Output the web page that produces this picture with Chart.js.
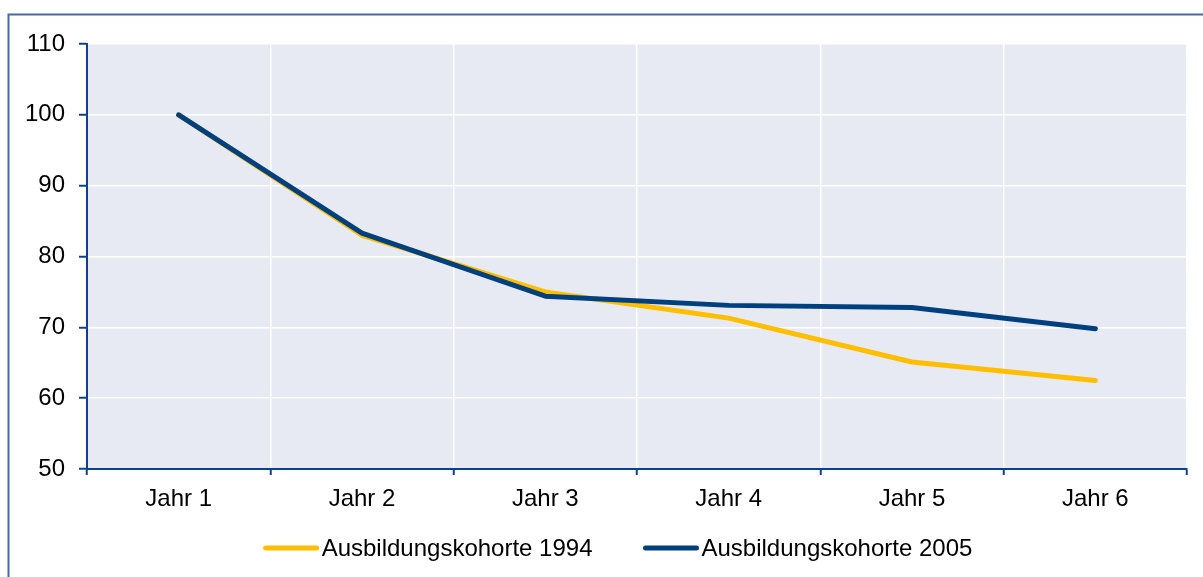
<!DOCTYPE html>
<html>
<head>
<meta charset="utf-8">
<script src="https://cdn.jsdelivr.net/npm/chart.js@4/dist/chart.umd.min.js"></script>
<style>
  html, body { margin: 0; padding: 0; background: #fff; }
  #wrap { width: 1203px; height: 577px; position: relative; }
</style>
</head>
<body>
<div id="wrap"><canvas id="chart" width="1203" height="577"></canvas></div>
<script>
// Ausbildungskohorten 1994 vs 2005, index (Jahr 1 = 100)

const YEARS = ["Jahr 1", "Jahr 2", "Jahr 3", "Jahr 4", "Jahr 5", "Jahr 6"];
const KOHORTE_1994 = [100, 83.0, 75.0, 71.3, 65.1, 62.5];
const KOHORTE_2005 = [100, 83.3, 74.4, 73.1, 72.8, 69.8];
const SERIES_LABELS = ["Ausbildungskohorte 1994", "Ausbildungskohorte 2005"];
const Y_MIN = 50, Y_MAX = 110, Y_STEP = 10;

const YELLOW = "#ffbe00";
const NAVY = "#00407f";
const AXIS = "#0c418f";
const FONT = "'Liberation Sans', Arial, sans-serif";

const plotBg = {
  id: "plotBg",
  beforeDraw(chart) {
    const { ctx, chartArea: a } = chart;
    ctx.save();
    ctx.fillStyle = "#e7eaf2";
    ctx.fillRect(a.left, a.top, a.right - a.left, a.bottom - a.top);
    ctx.restore();
  },
  afterDraw(chart) {
    // outer frame
    const ctx = chart.ctx;
    ctx.save();
    ctx.strokeStyle = "#4a69a8";
    ctx.lineWidth = 2;
    ctx.strokeRect(8.5, 14.5, 1240, 600);
    ctx.restore();
  }
};

const lineLegend = {
  id: "lineLegend",
  afterDraw(chart) {
    const ctx = chart.ctx;
    const lineLen = 55, gap = 3, itemGap = 51, y = 548, centerX = 618;
    ctx.save();
    ctx.font = "24px " + FONT;
    const items = chart.data.datasets.map(ds => ({
      label: ds.label, color: ds.borderColor, w: ctx.measureText(ds.label).width
    }));
    const total = items.reduce((s, it) => s + lineLen + gap + it.w, 0) + itemGap * (items.length - 1);
    let x = centerX - total / 2;
    items.forEach(it => {
      ctx.strokeStyle = it.color;
      ctx.lineWidth = 5;
      ctx.lineCap = "round";
      ctx.beginPath();
      ctx.moveTo(x + 2, y);
      ctx.lineTo(x + lineLen - 2, y);
      ctx.stroke();
      ctx.fillStyle = "#000";
      ctx.textBaseline = "middle";
      ctx.fillText(it.label, x + lineLen + gap, y + 1);
      x += lineLen + gap + it.w + itemGap;
    });
    ctx.restore();
  }
};

new Chart(document.getElementById("chart"), {
  type: "line",
  data: {
    labels: YEARS,
    datasets: [
      // order: navy line is drawn over the yellow one
      { label: SERIES_LABELS[0], data: KOHORTE_1994, borderColor: YELLOW, backgroundColor: YELLOW, order: 2 },
      { label: SERIES_LABELS[1], data: KOHORTE_2005, borderColor: NAVY, backgroundColor: NAVY, order: 1 },
    ],
  },
  options: {
    responsive: false,
    animation: false,
    layout: { padding: { left: 0, right: 16, top: 44, bottom: 58 } },
    elements: {
      line: { borderWidth: 5, tension: 0, borderCapStyle: "round", borderJoinStyle: "round" },
      point: { radius: 0, hoverRadius: 0 },
    },
    plugins: { legend: { display: false }, tooltip: { enabled: false } },
    scales: {
      x: {
        offset: true,
        grid: { offset: true, color: "#ffffff", lineWidth: 1.5, tickColor: AXIS, tickLength: 6, tickWidth: 2 },
        border: { color: AXIS, width: 2 },
        ticks: { color: "#000", font: { family: FONT, size: 24 }, padding: 10, maxRotation: 0 },
        afterFit(scale) { scale.height = 50; },
      },
      y: {
        min: Y_MIN, max: Y_MAX,
        grid: { color: "#ffffff", lineWidth: 1.5, tickColor: AXIS, tickLength: 8, tickWidth: 2 },
        border: { color: AXIS, width: 2 },
        ticks: { stepSize: Y_STEP, color: "#000", font: { family: FONT, size: 24 }, padding: 14 },
        afterFit(scale) { scale.width = 87; },
      },
    },
  },
  plugins: [plotBg, lineLegend],
});
</script>
</body>
</html>
